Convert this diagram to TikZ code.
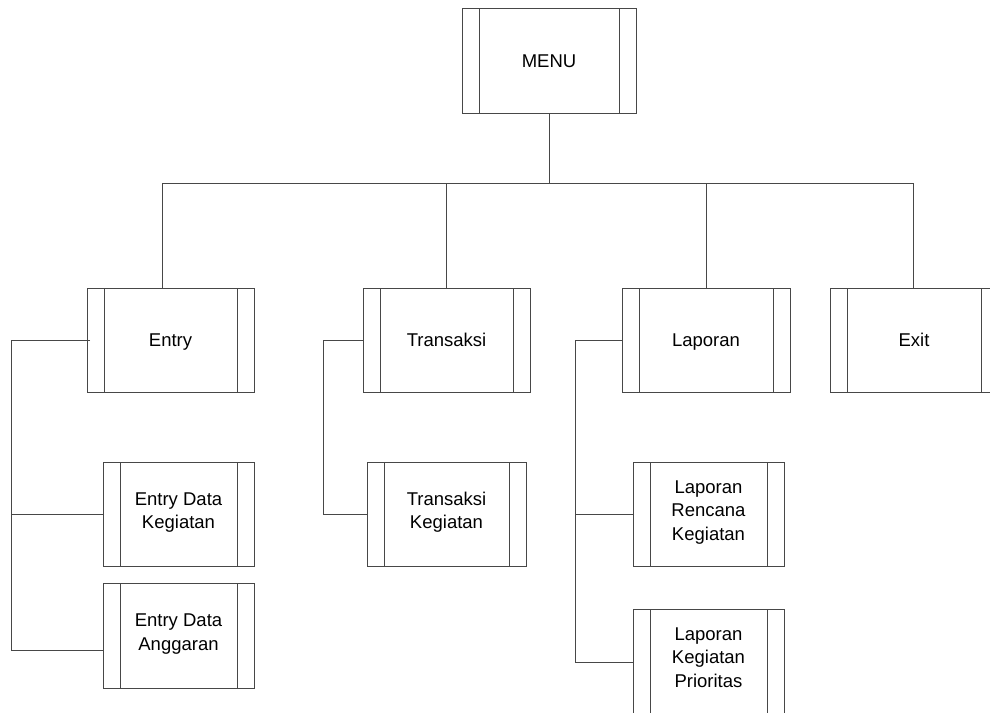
\documentclass[tikz,border=0pt]{standalone}
\usepackage{fontspec}
\setmainfont{Liberation Sans}
\begin{document}
\begin{tikzpicture}[x=1pt,y=-1pt,
  line/.style={draw=black!72,line width=0.9pt},
  mbox/.style={line,rectangle,outer sep=0pt,inner sep=2pt,align=center,
    font=\fontsize{18.5}{23.3}\selectfont,text=black,
    execute at begin node={\rule{0pt}{\dimexpr0.7\baselineskip+4pt\relax}},
    execute at end node={\strut},
    path picture={
      \draw[black!72,line width=0.9pt]
        ([xshift=17pt]path picture bounding box.north west) -- ([xshift=17pt]path picture bounding box.south west)
        ([xshift=-17pt]path picture bounding box.north east) -- ([xshift=-17pt]path picture bounding box.south east);
    }},
  ]
\useasboundingbox (0,0) rectangle (990,712);
\fill[white] (0,0) rectangle (990,712);
% top
\node[mbox,minimum width=174pt,minimum height=105pt] (menu) at (549,60.5) {MENU};
% level 1
\node[mbox,minimum width=167pt,minimum height=104pt] (entry) at (170.5,340) {Entry};
\node[mbox,minimum width=167pt,minimum height=104pt] (trans) at (446.5,340) {Transaksi};
\node[mbox,minimum width=168pt,minimum height=104pt] (lap) at (706,340) {Laporan};
\node[mbox,minimum width=168pt,minimum height=104pt] (exit) at (914,340) {Exit};
% level 2
\node[mbox,minimum width=151pt,minimum height=104pt] (edk) at (178.5,514) {Entry Data\\Kegiatan};
\node[mbox,minimum width=151pt,minimum height=105pt] (eda) at (178.5,635.5) {Entry Data\\Anggaran};
\node[mbox,minimum width=159pt,minimum height=104pt] (tk) at (446.5,514) {Transaksi\\Kegiatan};
\node[mbox,minimum width=151pt,minimum height=104pt] (lrk) at (708.5,514) {Laporan\\Rencana\\Kegiatan};
\node[mbox,minimum width=151pt,minimum height=104pt] (lkp) at (708.5,661) {Laporan\\Kegiatan\\Prioritas};
% bus
\coordinate (busL) at (162,183);
\coordinate (busR) at (913,183);
\draw[line] (busL) -- (busR);
\draw[line] (menu.south) -- (menu.south |- busL);
\draw[line] (busL) -- (busL |- entry.north);
\draw[line] (trans.north) -- (trans.north |- busL);
\draw[line] (lap.north) -- (lap.north |- busL);
\draw[line] (busR) -- (busR |- exit.north);
% entry subtree
\coordinate (eT) at (11,340);
\coordinate (eB) at (11,650);
\draw[line] ([xshift=3pt]entry.west) -- (eT) -- (eB) -- (eB -| eda.west);
\draw[line] (eT |- edk.west) -- (edk.west);
% transaksi subtree
\coordinate (tT) at (323,340);
\coordinate (tB) at (323,514);
\draw[line] (trans.west) -- (tT) -- (tB) -- (tk.west);
% laporan subtree
\coordinate (lT) at (575,340);
\coordinate (lB) at (575,662);
\draw[line] (lap.west) -- (lT) -- (lB) -- (lB -| lkp.west);
\draw[line] (lT |- lrk.west) -- (lrk.west);
\end{tikzpicture}
\end{document}
